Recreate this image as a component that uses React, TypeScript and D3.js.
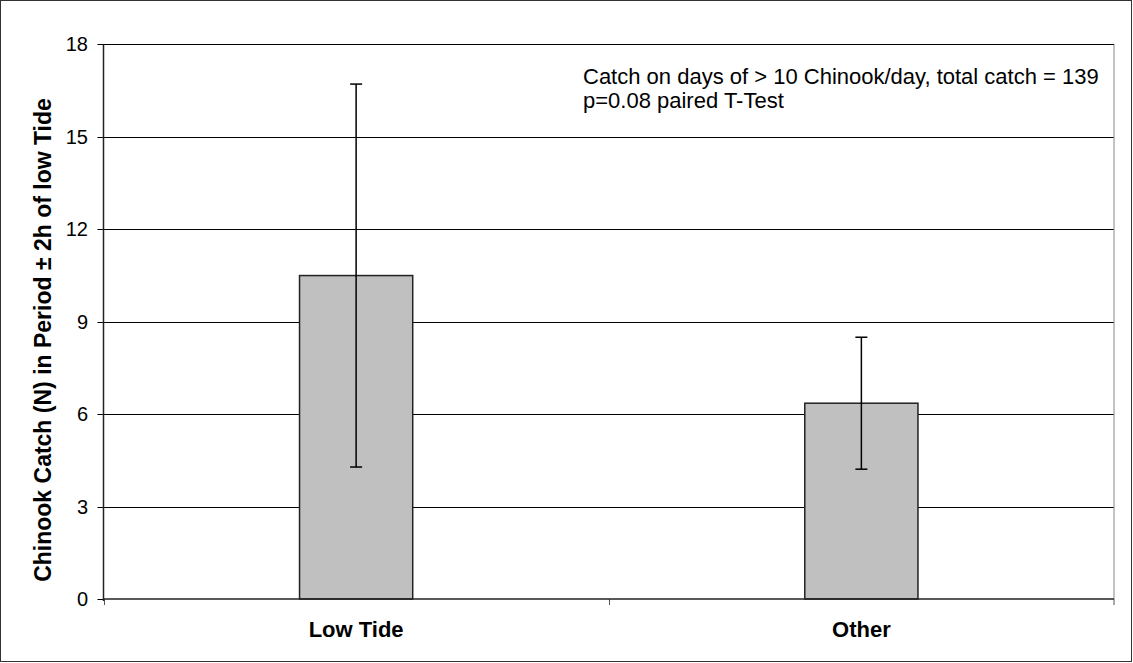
import React from "react";
import * as d3 from "d3";

const categories = ["Low Tide", "Other"];
const means = [10.49, 6.35];
const errors = [6.21, 2.14];
const yTicks = [0, 3, 6, 9, 12, 15, 18];
const annotationLines = [
  "Catch on days of > 10 Chinook/day, total catch = 139",
  "p=0.08 paired T-Test",
];
const yTitle = "Chinook Catch (N) in Period \u00b1 2h of low Tide";

const W = 1133;
const H = 663;
const left = 103.5;
const right = 1114;
const top = 44;
const bottom = 599;

export default function App() {
  const y = d3.scaleLinear().domain([0, 18]).range([bottom, top]);
  const x = d3.scaleBand().domain(categories).range([left, right]).paddingInner(0).paddingOuter(0);
  const barW = x.bandwidth() * 0.224;
  const font = "'Liberation Sans', Arial, sans-serif";
  return (
    <div style={{ position: "absolute", left: 0, top: 0 }}>
      <svg width={W} height={H} style={{ display: "block", fontFamily: font }}>
        <rect x={0.5} y={0.5} width={W - 2} height={H - 2} fill="#fff" stroke="#333" strokeWidth={1} />
        {yTicks.map((t) => (
          <g key={t}>
            {t > 0 && (
              <line x1={left} x2={right} y1={Math.round(y(t)) + 0.5} y2={Math.round(y(t)) + 0.5} stroke="#000" strokeWidth={1} />
            )}
            <line x1={left - 6} x2={left} y1={Math.round(y(t)) + 0.5} y2={Math.round(y(t)) + 0.5} stroke="#000" />
            <text x={88} y={y(t)} dy="0.36em" textAnchor="end" fontSize={20} fill="#000">
              {t}
            </text>
          </g>
        ))}
        <line x1={right} x2={right} y1={top} y2={bottom} stroke="#888" strokeWidth={1} />
        {categories.map((c, i) => {
          const cx = (x(c) as number) + x.bandwidth() / 2;
          const y0 = y(means[i]);
          return (
            <g key={c}>
              <rect x={cx - barW / 2} y={y0} width={barW} height={bottom - y0} fill="#c0c0c0" stroke="#222" strokeWidth={1.5} />
              <line x1={cx} x2={cx} y1={y(means[i] + errors[i])} y2={y(means[i] - errors[i])} stroke="#000" strokeWidth={1.5} />
              <line x1={cx - 6} x2={cx + 6} y1={y(means[i] + errors[i])} y2={y(means[i] + errors[i])} stroke="#000" strokeWidth={1.5} />
              <line x1={cx - 6} x2={cx + 6} y1={y(means[i] - errors[i])} y2={y(means[i] - errors[i])} stroke="#000" strokeWidth={1.5} />
              <text x={cx} y={637} textAnchor="middle" fontSize={22} fontWeight="bold" fill="#000">
                {c}
              </text>
            </g>
          );
        })}
        {x.domain().map((c) => (
          <line key={"t" + c} x1={Math.round(x(c) as number) + 0.5} x2={Math.round(x(c) as number) + 0.5} y1={bottom} y2={bottom + 6} stroke="#555" />
        ))}
        <line x1={right} x2={right} y1={bottom} y2={bottom + 6} stroke="#555" />
        <line x1={left} x2={left} y1={top} y2={bottom + 2} stroke="#222" strokeWidth={1.5} />
        <line x1={left} x2={right} y1={bottom} y2={bottom} stroke="#222" strokeWidth={1.5} />
        <line x1={left} x2={right} y1={top + 0.5} y2={top + 0.5} stroke="#000" strokeWidth={1} />
        {annotationLines.map((l, i) => (
          <text key={i} x={583} y={84} dy={i * 24} fontSize={22} fill="#000">
            {l}
          </text>
        ))}
        <text
          transform={`translate(51, ${(97 + 583) / 2}) rotate(-90)`}
          textAnchor="middle"
          fontSize={23}
          fontWeight="bold"
          fill="#000"
        >
          {yTitle}
        </text>
      </svg>
    </div>
  );
}
